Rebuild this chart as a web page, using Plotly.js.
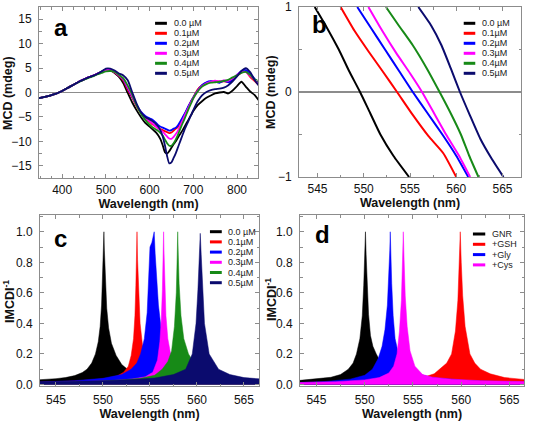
<!DOCTYPE html>
<html><head><meta charset="utf-8">
<script src="https://cdn.plot.ly/plotly-3.0.1.min.js"></script>
<style>html,body{margin:0;padding:0;background:#fff}#chart{width:534px;height:421px}</style>
</head><body><div id="chart"></div><script>
// ---------- labels / colours ----------
const concLabels = ['0.0 µM','0.1µM','0.2µM','0.3µM','0.4µM','0.5µM'];
const concColors = ['#000000','#ff0000','#0000ff','#ff00ff','#178a17','#0b0b6e'];
const aminoLabels = ['GNR','+GSH','+Gly','+Cys'];
const aminoColors = ['#000000','#ff0000','#0000ff','#ff00ff'];
const xTitleText = 'Wavelength (nm)';
const yTitleMCD = 'MCD (mdeg)';
const yTitleInv = 'IMCDI<sup>-1</sup>';

// ---------- panel a : MCD spectra ----------
const waveA = [345,350,360,370,380,390,400,410,420,430,440,450,460,470,480,490,500,510,520,530,
  540,550,560,570,580,590,
  600,605,610,615,620,625,630,635,640,645,650,655,660,665,670,675,680,685,690,695,700,
  710,720,730,740,750,760,770,780,790,800,810,820,830,840,850];
const mcdA00 = [-1.2,-1.1,-0.9,-0.7,-0.4,-0.1,0.3,0.8,1.3,1.8,2.3,2.7,3.1,3.4,3.8,4.3,4.7,4.6,4.0,3.2,
  1.9,-0.1,-2.0,-3.6,-5.0,-6.2,
  -7.0,-7.4,-7.8,-8.2,-8.8,-9.6,-10.8,-12.2,-12.5,-12.0,-11.3,-10.6,-10.0,-9.2,-8.5,-7.8,-7.0,-6.2,-5.4,-4.6,-3.8,
  -2.6,-1.8,-1.1,-0.6,-0.2,0.0,0.1,-0.2,0.4,1.3,2.2,1.2,0.2,-0.5,-1.6];
const mcdA01 = [-1.2,-1.1,-0.9,-0.7,-0.4,-0.1,0.3,0.8,1.3,1.8,2.3,2.7,3.1,3.4,3.8,4.2,4.6,4.6,4.1,3.4,
  2.4,0.6,-1.0,-2.8,-4.2,-5.3,
  -6.0,-6.4,-6.7,-7.0,-7.3,-7.5,-7.7,-7.9,-8.1,-8.3,-8.2,-7.8,-7.4,-7.0,-6.2,-5.3,-4.5,-3.6,-2.7,-1.8,-1.0,
  0.6,1.5,2.0,2.2,2.3,2.2,2.3,2.2,2.6,3.4,4.1,4.3,3.2,2.4,1.5];
const mcdA02 = [-1.2,-1.1,-0.9,-0.7,-0.4,-0.1,0.3,0.8,1.3,1.8,2.3,2.7,3.1,3.4,3.8,4.2,4.7,4.7,4.2,3.5,
  2.6,0.9,-0.8,-2.5,-3.9,-4.8,
  -5.3,-5.5,-5.8,-6.2,-6.7,-7.0,-7.2,-7.4,-7.6,-7.8,-7.7,-7.4,-7.2,-6.7,-6.0,-5.2,-4.4,-3.5,-2.6,-1.8,-1.0,
  0.4,1.5,2.1,2.3,2.2,2.0,2.4,2.1,2.5,3.6,4.4,4.6,3.9,2.8,2.0];
const mcdA03 = [-1.2,-1.1,-0.9,-0.7,-0.4,-0.1,0.3,0.8,1.3,1.8,2.3,2.7,3.1,3.4,3.8,4.2,4.6,4.6,4.2,3.5,
  2.7,1.05,-0.7,-2.6,-4.1,-5.2,
  -5.9,-6.2,-6.6,-7.0,-7.4,-7.7,-8.0,-8.5,-9.0,-9.4,-9.5,-9.1,-8.5,-7.8,-6.8,-5.8,-4.8,-3.8,-2.9,-2.0,-1.2,
  0.3,1.3,1.9,2.2,2.4,2.3,2.5,2.4,2.9,3.6,4.2,4.2,3.4,2.6,1.8];
const mcdA04 = [-1.2,-1.1,-0.9,-0.7,-0.4,-0.1,0.3,0.8,1.3,1.8,2.2,2.6,3.0,3.3,3.7,4.0,4.3,4.4,4.2,3.6,
  2.9,1.4,-0.4,-2.6,-4.3,-5.6,
  -6.6,-7.0,-7.3,-7.6,-7.9,-8.3,-8.8,-9.6,-10.4,-10.9,-10.9,-10.4,-9.6,-8.6,-7.5,-6.4,-5.4,-4.3,-3.2,-2.2,-1.2,
  0.2,1.2,1.7,2.0,2.1,2.2,2.4,2.6,3.1,3.5,4.0,4.2,3.6,2.7,2.3];
const mcdA05 = [-1.2,-1.1,-0.9,-0.7,-0.4,-0.1,0.3,0.8,1.3,1.8,2.3,2.7,3.1,3.4,3.8,4.3,4.9,4.9,4.5,3.9,
  3.5,2.5,0.1,-2.2,-4.0,-5.0,
  -5.5,-5.8,-6.1,-6.5,-7.0,-7.8,-9.0,-10.8,-13.0,-14.5,-14.3,-13.4,-12.4,-11.2,-10.0,-8.8,-7.6,-6.6,-5.6,-4.6,-3.6,
  -1.8,-0.6,0.1,0.5,0.7,0.8,1.0,1.5,2.3,3.3,4.4,5.0,4.2,2.6,1.4];

// ---------- panel b : zoom around the zero crossing ----------
const waveB00 = [544.7,546.0,547.3,548.4,549.6,550.7,551.8,553.2,554.9];
const mcdB00  = [1.0,0.76,0.5,0.25,0.0,-0.25,-0.5,-0.75,-1.0];
const waveB01 = [547.5,549.0,550.5,552.0,553.6,555.3,557.0,558.6,560.0];
const mcdB01  = [1.0,0.72,0.48,0.25,0.0,-0.27,-0.52,-0.72,-1.0];
const waveB02 = [549.3,550.8,552.3,553.8,555.3,556.9,558.5,560.0,561.3];
const mcdB02  = [1.0,0.75,0.5,0.25,0.0,-0.25,-0.5,-0.75,-1.0];
const waveB03 = [550.5,552.0,553.5,555.0,556.3,557.6,558.9,560.3,561.5];
const mcdB03  = [1.0,0.72,0.46,0.22,0.0,-0.25,-0.5,-0.75,-1.0];
const waveB04 = [552.4,553.8,555.3,556.8,558.2,559.4,560.5,561.4,562.4];
const mcdB04  = [1.0,0.78,0.55,0.28,0.0,-0.25,-0.5,-0.75,-1.0];
const waveB05 = [555.9,557.3,558.4,559.4,560.4,561.5,562.6,563.8,565.1];
const mcdB05  = [1.0,0.78,0.55,0.28,0.0,-0.28,-0.55,-0.78,-1.0];

// ---------- panel c : |MCD|^-1, concentration series ----------
const waveC00 = [543,544,545,546,547,547.8,548.3,548.8,549.2,549.5,549.7,549.85,549.95,550.05,550.1,550.15,550.25,550.4,550.6,550.9,551.4,552,552.8,554,556,559,563,567];
const invC00  = [0.03,0.033,0.038,0.045,0.058,0.078,0.1,0.14,0.2,0.28,0.38,0.52,0.7,0.88,1.0,0.88,0.68,0.5,0.37,0.27,0.19,0.13,0.09,0.06,0.04,0.03,0.02,0.015];
const waveC01 = [543,546,549,550.5,551.5,552.2,552.7,553.0,553.25,553.4,553.5,553.57,553.62,553.68,553.78,553.95,554.2,554.6,555.2,556,557.5,560,564,567];
const invC01  = [0.015,0.02,0.03,0.04,0.055,0.08,0.12,0.19,0.3,0.45,0.65,0.85,1.0,0.82,0.6,0.4,0.26,0.17,0.11,0.075,0.05,0.03,0.02,0.015];
const waveC02 = [543,547,550,552,553,553.6,554.0,554.4,554.7,554.9,555.0,555.2,555.35,555.45,555.55,555.7,555.9,556.2,556.6,557.1,557.8,559,561,564,567];
const invC02  = [0.015,0.025,0.04,0.065,0.1,0.14,0.2,0.3,0.47,0.72,0.9,0.93,0.97,1.0,0.86,0.7,0.52,0.36,0.25,0.18,0.12,0.08,0.05,0.03,0.02];
const waveC03 = [543,548,551,553,554.5,555.3,555.8,556.05,556.2,556.32,556.4,556.45,556.5,556.58,556.7,556.9,557.2,557.7,558.5,560,563,567];
const invC03  = [0.012,0.018,0.025,0.035,0.05,0.08,0.16,0.28,0.42,0.62,0.85,1.0,0.86,0.64,0.45,0.3,0.2,0.13,0.085,0.05,0.03,0.02];
const waveC04 = [543,549,552,554,555.5,556.3,556.9,557.3,557.6,557.8,557.9,557.95,558.0,558.1,558.3,558.6,559.1,559.9,561,563,567];
const invC04  = [0.012,0.02,0.03,0.04,0.06,0.1,0.15,0.22,0.38,0.6,0.85,1.0,0.88,0.66,0.45,0.3,0.2,0.12,0.075,0.045,0.025];
const waveC05 = [543,546,550,553,555.5,557.5,558.8,559.5,559.9,560.1,560.25,560.35,560.45,560.6,560.8,561.3,562.3,563.5,565,567];
const invC05  = [0.018,0.02,0.025,0.032,0.042,0.065,0.1,0.2,0.4,0.62,0.85,0.99,0.85,0.6,0.4,0.2,0.1,0.065,0.045,0.035];

// ---------- panel d : |MCD|^-1, amino-acid series ----------
const waveD00 = [543,544,545.5,546.5,547.5,548.3,548.8,549.15,549.5,549.75,549.9,550.0,550.08,550.15,550.25,550.4,550.6,550.85,551.2,551.7,552.5,554,557,562,567];
const invD00  = [0.025,0.03,0.038,0.047,0.065,0.1,0.14,0.2,0.3,0.45,0.65,0.85,1.0,0.85,0.65,0.46,0.32,0.25,0.2,0.14,0.09,0.055,0.035,0.022,0.016];
const waveD01 = [543,547,551,554,556,557.2,557.8,558.5,559.0,559.4,559.65,559.8,559.9,560.0,560.15,560.4,560.9,561.4,562.0,563,564.5,567];
const invD01  = [0.012,0.018,0.025,0.035,0.045,0.07,0.1,0.14,0.2,0.35,0.55,0.8,1.0,0.8,0.58,0.38,0.2,0.14,0.1,0.07,0.045,0.03];
const waveD02 = [543,546,548.5,550,550.8,551.4,551.8,552.1,552.35,552.5,552.6,552.65,552.7,552.8,552.95,553.15,553.5,554,555,557,561,567];
const invD02  = [0.012,0.02,0.035,0.06,0.1,0.17,0.25,0.36,0.52,0.7,0.88,1.0,0.87,0.66,0.45,0.3,0.2,0.13,0.08,0.045,0.025,0.015];
const waveD03 = [543,547,550,551.5,552.5,553.0,553.35,553.6,553.8,553.92,554.0,554.08,554.2,554.4,554.7,555.2,556,557,559,562,567];
const invD03  = [0.012,0.018,0.03,0.045,0.075,0.12,0.2,0.35,0.55,0.8,1.0,0.82,0.58,0.38,0.22,0.12,0.065,0.048,0.035,0.025,0.018];

// ---------- build traces ----------
const FONT = 'Liberation Sans, Arial, sans-serif';
const seriesA = [mcdA00,mcdA01,mcdA02,mcdA03,mcdA04,mcdA05];
const seriesBx = [waveB00,waveB01,waveB02,waveB03,waveB04,waveB05];
const seriesBy = [mcdB00,mcdB01,mcdB02,mcdB03,mcdB04,mcdB05];
const seriesCx = [waveC00,waveC01,waveC02,waveC03,waveC04,waveC05];
const seriesCy = [invC00,invC01,invC02,invC03,invC04,invC05];
const seriesDx = [waveD00,waveD01,waveD02,waveD03];
const seriesDy = [invD00,invD01,invD02,invD03];

const traces = [];
seriesA.forEach((y,i)=>traces.push({type:'scatter',mode:'lines',x:waveA,y:y,xaxis:'x',yaxis:'y',
  name:concLabels[i],showlegend:false,line:{color:concColors[i],width:1.8,shape:'spline',smoothing:0.6}}));
seriesBy.forEach((y,i)=>traces.push({type:'scatter',mode:'lines',x:seriesBx[i],y:y,xaxis:'x2',yaxis:'y2',
  name:concLabels[i],showlegend:false,line:{color:concColors[i],width:2,shape:'spline',smoothing:0.5}}));
seriesCy.forEach((y,i)=>traces.push({type:'scatter',mode:'lines',x:seriesCx[i],y:y,xaxis:'x3',yaxis:'y3',
  name:concLabels[i],showlegend:false,fill:'tozeroy',fillcolor:concColors[i],line:{color:concColors[i],width:0.5}}));
seriesDy.forEach((y,i)=>traces.push({type:'scatter',mode:'lines',x:seriesDx[i],y:y,xaxis:'x4',yaxis:'y4',
  name:aminoLabels[i],showlegend:false,fill:'tozeroy',fillcolor:aminoColors[i],line:{color:aminoColors[i],width:0.5}}));

// ---------- axes ----------
const TICK = '#8c8c8c';
function minor(d){ return {dtick:d,ticks:'inside',ticklen:2.5,tickcolor:TICK,showgrid:false}; }
function ax(extra){
  return Object.assign({
    showline:true, linecolor:TICK, linewidth:1, mirror:'allticks',
    ticks:'inside', ticklen:4, tickcolor:TICK, tickwidth:1,
    showgrid:false, zeroline:false,
    tickfont:{family:FONT,size:12,color:'#111'}
  }, extra);
}
const titleFont = {family:FONT,size:12.5,weight:'bold',color:'#111'};
function xTitle(s){ return {text:xTitleText, font:titleFont, standoff:s}; }

const W=534,H=421;
const dom = (a,b,tot)=>[a/tot,b/tot];
const layout = {
  width:W, height:H, margin:{l:0,r:0,t:0,b:0}, paper_bgcolor:'#fff', plot_bgcolor:'#fff',
  showlegend:false,
  xaxis: ax({domain:dom(39,258,W), anchor:'y', range:[347,848], dtick:100, tick0:0, minor:minor(25), ticklabelstandoff:1, title:xTitle(1)}),
  yaxis: ax({domain:[1-178/H,1-7/H], anchor:'x', range:[-17.5,17.5], dtick:5, minor:minor(2.5), ticklabelstandoff:4,
    zeroline:true, zerolinecolor:TICK, zerolinewidth:1.5}),
  xaxis2: ax({domain:dom(299,521,W), anchor:'y2', range:[543,567], dtick:5, tick0:0, minor:minor(2.5), ticklabelstandoff:1, title:xTitle(1)}),
  yaxis2: ax({domain:[1-177/H,1-7/H], anchor:'x2', range:[-1,1], dtick:1, minor:minor(0.5), ticklabelstandoff:4,
    zeroline:true, zerolinecolor:TICK, zerolinewidth:1.5}),
  xaxis3: ax({domain:dom(40,259,W), anchor:'y3', range:[543.3,566.6], dtick:5, tick0:0, minor:minor(2.5), ticklabelstandoff:3, title:xTitle(3)}),
  yaxis3: ax({domain:[1-386/H,1-215/H], anchor:'x3', range:[-0.01,1.11], dtick:0.2, tickformat:'.1f', minor:minor(0.1), ticklabelstandoff:4}),
  xaxis4: ax({domain:dom(300,524,W), anchor:'y4', range:[543.3,566.5], dtick:5, tick0:0, minor:minor(2.5), ticklabelstandoff:3, title:xTitle(3)}),
  yaxis4: ax({domain:[1-386/H,1-215/H], anchor:'x4', range:[-0.01,1.11], dtick:0.2, tickformat:'.1f', minor:minor(0.1), ticklabelstandoff:4}),
  shapes:[], annotations:[]
};

// y-axis titles (rotated text beside each panel)
[[yTitleMCD,8,93],[yTitleMCD,271,92],[yTitleInv,9,302],[yTitleInv,271,300]].forEach(t=>{
  layout.annotations.push({text:t[0], xref:'paper', yref:'paper', x:t[1]/W, y:1-t[2]/H, xanchor:'center', yanchor:'middle',
    textangle:-90, showarrow:false, font:titleFont});
});

// panel letters
[['a','x','y',0.06,0.88],['b','x2','y2',0.05,0.90],['c','x3','y3',0.055,0.86],['d','x4','y4',0.06,0.885]].forEach(p=>{
  layout.annotations.push({text:'<b>'+p[0]+'</b>', xref:p[1]+' domain', yref:p[2]+' domain', x:p[3], y:p[4],
    xanchor:'left', yanchor:'middle', showarrow:false, font:{family:FONT,size:24,color:'#000'}});
});

// legends (short thick keys + text), inside each panel
function legend(names, colors, xr, yr, x0, x1, xt, y0, dy){
  names.forEach((n,i)=>{
    const y = y0 - i*dy;
    layout.shapes.push({type:'line', xref:xr+' domain', yref:yr+' domain', x0:x0, x1:x1, y0:y, y1:y,
      line:{color:colors[i], width:3}});
    layout.annotations.push({text:n, xref:xr+' domain', yref:yr+' domain', x:xt, y:y, xanchor:'left', yanchor:'middle',
      showarrow:false, font:{family:FONT,size:9,color:'#222'}});
  });
}
legend(concLabels, concColors, 'x','y', 0.530,0.584,0.607, (178-23.3)/171, 10/171);
legend(concLabels, concColors, 'x2','y2', 0.742,0.794,0.817, (177-23.3)/170, 10/170);
legend(concLabels, concColors, 'x3','y3', 0.776,0.830,0.849, (386-231.7)/171, 10.2/171);
legend(aminoLabels, aminoColors, 'x4','y4', 0.772,0.827,0.847, (386-234)/171, 10.3/171);

Plotly.newPlot('chart', traces, layout, {staticPlot:true, displayModeBar:false});
</script></body></html>
